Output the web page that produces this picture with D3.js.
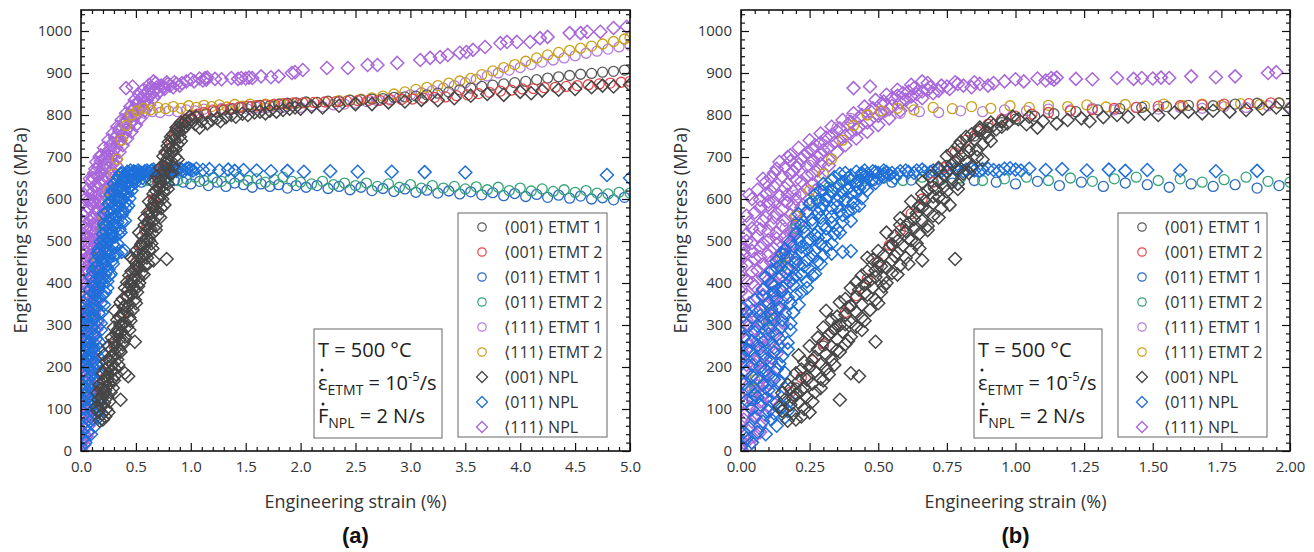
<!DOCTYPE html>
<html>
<head>
<meta charset="utf-8">
<script src="https://cdn.jsdelivr.net/npm/d3@7"></script>
<style>
  body { margin: 0; background: #fff; }
  svg { font-family: "Open Sans", "DejaVu Sans", sans-serif; }
</style>
</head>
<body>
<svg id="chart" width="1314" height="552"></svg>
<script>
// ---- data: [strain %, stress MPa] ----
const etmt001_1 = [[0.20,150],[0.25,200],[0.30,250],[0.35,300],[0.40,345],[0.45,395],[0.50,440],[0.55,490],[0.60,535],[0.65,580],[0.70,630],[0.75,680],[0.80,720],[0.85,750],[0.90,770],[0.95,782],[1.00,790],[1.07,797],[1.14,803],[1.22,808],[1.30,812],[1.38,815],[1.46,818],[1.55,820],[1.63,823],[1.72,822],[1.80,826],[1.88,828],[1.96,829],[2.05,831],[2.15,830],[2.25,833],[2.35,832],[2.45,835],[2.55,836],[2.65,838],[2.75,839],[2.85,842],[2.95,843],[3.05,845],[3.15,848],[3.25,852],[3.35,855],[3.45,860],[3.55,864],[3.65,868],[3.75,871],[3.85,874],[3.95,877],[4.05,880],[4.15,884],[4.25,888],[4.35,891],[4.45,894],[4.55,897],[4.65,899],[4.75,902],[4.85,904],[4.95,907]];
const etmt001_2 = [[0.18,140],[0.22,175],[0.26,215],[0.30,255],[0.34,290],[0.38,330],[0.42,370],[0.46,410],[0.50,450],[0.54,490],[0.58,525],[0.62,565],[0.66,600],[0.70,640],[0.74,675],[0.78,710],[0.82,740],[0.86,762],[0.90,778],[0.95,790],[1.00,797],[1.06,802],[1.12,806],[1.20,810],[1.28,813],[1.36,816],[1.44,818],[1.52,821],[1.60,822],[1.68,824],[1.76,826],[1.85,827],[1.93,829],[2.02,829],[2.12,830],[2.22,831],[2.32,832],[2.42,833],[2.52,834],[2.62,835],[2.72,835],[2.82,836],[2.92,837],[3.02,838],[3.12,840],[3.22,842],[3.32,843],[3.42,846],[3.52,848],[3.62,851],[3.72,854],[3.82,857],[3.92,859],[4.02,862],[4.12,863],[4.22,865],[4.32,866],[4.42,868],[4.52,870],[4.62,872],[4.72,874],[4.82,876],[4.92,878],[5.00,880]];
const etmt011_1 = [[0.04,120],[0.08,260],[0.12,380],[0.16,470],[0.20,540],[0.25,590],[0.30,620],[0.36,635],[0.42,640],[0.48,643],[0.55,640],[0.62,645],[0.70,641],[0.77,638],[0.85,644],[0.93,640],[1.00,636],[1.08,642],[1.16,632],[1.24,640],[1.32,630],[1.40,638],[1.48,634],[1.56,628],[1.64,636],[1.72,630],[1.80,634],[1.88,626],[1.96,632],[2.05,628],[2.15,632],[2.25,625],[2.35,630],[2.45,622],[2.55,628],[2.65,620],[2.75,625],[2.85,618],[2.95,624],[3.05,616],[3.15,621],[3.25,614],[3.35,619],[3.45,612],[3.55,617],[3.65,610],[3.75,615],[3.85,608],[3.95,613],[4.05,606],[4.15,611],[4.25,604],[4.35,609],[4.45,602],[4.55,607],[4.65,600],[4.75,603],[4.85,598],[4.95,604]];
const etmt011_2 = [[0.05,150],[0.10,310],[0.15,440],[0.20,530],[0.26,595],[0.32,628],[0.38,645],[0.45,648],[0.52,650],[0.59,644],[0.66,652],[0.73,646],[0.80,650],[0.88,644],[0.96,648],[1.04,652],[1.12,644],[1.20,650],[1.28,642],[1.36,648],[1.44,652],[1.52,644],[1.60,648],[1.68,640],[1.76,646],[1.84,652],[1.92,642],[2.00,640],[2.10,636],[2.20,642],[2.30,634],[2.40,638],[2.50,632],[2.60,638],[2.70,630],[2.80,636],[2.90,628],[3.00,634],[3.10,626],[3.20,632],[3.30,626],[3.40,630],[3.50,624],[3.60,629],[3.70,622],[3.80,628],[3.90,620],[4.00,626],[4.10,619],[4.20,624],[4.30,618],[4.40,622],[4.50,616],[4.60,620],[4.70,614],[4.80,612],[4.90,616],[5.00,614]];
const etmt111_1 = [[0.04,150],[0.08,300],[0.12,430],[0.16,530],[0.20,610],[0.25,680],[0.30,730],[0.35,770],[0.40,792],[0.46,802],[0.52,806],[0.58,804],[0.65,808],[0.72,806],[0.80,810],[0.88,808],[0.96,812],[1.04,810],[1.12,814],[1.20,812],[1.28,816],[1.36,812],[1.44,818],[1.52,814],[1.60,818],[1.68,816],[1.76,820],[1.84,818],[1.92,822],[2.00,818],[2.10,822],[2.20,820],[2.30,824],[2.40,826],[2.50,828],[2.60,832],[2.70,834],[2.80,838],[2.90,842],[3.00,848],[3.10,853],[3.20,858],[3.30,864],[3.40,870],[3.50,877],[3.60,885],[3.70,893],[3.80,900],[3.90,907],[4.00,913],[4.10,920],[4.20,926],[4.30,931],[4.40,936],[4.50,941],[4.60,947],[4.70,952],[4.80,957],[4.90,962],[5.00,966]];
const etmt111_2 = [[0.05,170],[0.10,330],[0.15,460],[0.20,560],[0.25,620],[0.30,660],[0.33,695],[0.37,740],[0.41,775],[0.46,800],[0.51,810],[0.57,816],[0.63,812],[0.70,818],[0.77,815],[0.84,820],[0.91,816],[0.98,822],[1.05,818],[1.12,823],[1.19,820],[1.26,824],[1.33,819],[1.40,825],[1.47,821],[1.54,826],[1.61,822],[1.68,826],[1.75,823],[1.82,827],[1.89,825],[1.96,828],[2.05,829],[2.15,830],[2.25,832],[2.35,834],[2.45,836],[2.55,838],[2.65,841],[2.75,845],[2.85,850],[2.95,855],[3.05,861],[3.15,866],[3.25,870],[3.35,876],[3.45,881],[3.55,887],[3.65,896],[3.75,905],[3.85,913],[3.95,920],[4.05,928],[4.15,936],[4.25,943],[4.35,949],[4.45,954],[4.55,959],[4.65,964],[4.75,969],[4.85,975],[4.95,981],[5.00,984]];
const npl001 = [[0.17,72],[0.20,75],[0.19,88],[0.15,95],[0.23,100],[0.18,110],[0.21,115],[0.16,122],[0.24,128],[0.20,135],[0.27,140],[0.18,148],[0.23,152],[0.26,160],[0.21,166],[0.29,172],[0.24,178],[0.40,185],[0.20,185],[0.27,190],[0.31,196],[0.25,200],[0.29,206],[0.23,212],[0.33,218],[0.27,224],[0.31,230],[0.36,236],[0.28,242],[0.33,248],[0.38,254],[0.30,260],[0.35,266],[0.40,272],[0.32,278],[0.37,284],[0.34,290],[0.42,296],[0.36,300],[0.40,306],[0.33,312],[0.44,318],[0.38,324],[0.42,330],[0.47,336],[0.39,342],[0.44,348],[0.36,354],[0.49,360],[0.42,366],[0.46,372],[0.51,378],[0.43,384],[0.48,390],[0.45,396],[0.53,400],[0.47,406],[0.52,412],[0.44,418],[0.55,424],[0.49,430],[0.53,436],[0.58,442],[0.50,448],[0.55,454],[0.46,460],[0.78,457],[0.60,460],[0.52,466],[0.57,472],[0.62,478],[0.54,484],[0.59,490],[0.64,494],[0.57,500],[0.61,506],[0.56,512],[0.65,518],[0.60,524],[0.63,530],[0.68,536],[0.61,542],[0.66,548],[0.58,554],[0.70,560],[0.64,566],[0.68,572],[0.73,578],[0.65,584],[0.70,590],[0.67,596],[0.74,600],[0.70,606],[0.66,612],[0.75,618],[0.71,624],[0.74,630],[0.79,636],[0.72,642],[0.77,648],[0.69,654],[0.81,660],[0.75,666],[0.79,672],[0.84,678],[0.77,684],[0.82,690],[0.79,696],[0.86,700],[0.81,706],[0.77,712],[0.86,718],[0.83,724],[0.88,730],[0.80,736],[0.85,742],[0.90,748],[0.84,754],[0.89,760],[0.93,766],[0.87,770],[0.92,776],[0.97,780],[0.95,786],[1.01,790],[1.04,778],[1.08,770],[1.10,785],[1.15,780],[1.19,788],[1.24,792],[1.27,785],[1.32,795],[1.37,800],[1.41,796],[1.47,803],[1.52,800],[1.58,806],[1.63,808],[1.68,804],[1.72,810],[1.78,808],[1.84,812],[1.90,815],[1.95,818],[2.00,815],[2.10,820],[2.20,818],[2.35,822],[2.50,826],[2.65,826],[2.80,830],[2.95,832],[3.10,836],[3.25,835],[3.40,840],[3.55,846],[3.70,850],[3.85,848],[4.00,855],[4.10,852],[4.20,858],[4.35,860],[4.50,862],[4.65,866],[4.75,870],[4.85,868],[5.00,872],
  [0.22,82],[0.25,92],[0.14,105],[0.26,118],[0.19,126],[0.15,138],[0.22,144],[0.29,150],[0.17,158],[0.24,170],[0.32,182],[0.22,194],[0.34,205],[0.26,216],[0.21,228],[0.35,240],[0.25,250],[0.39,262],[0.28,270],[0.33,282],[0.44,288],[0.30,294],[0.38,302],[0.45,310],[0.35,320],[0.31,334],[0.40,346],[0.50,352],[0.38,362],[0.45,376],[0.40,388],[0.52,392],[0.42,402],[0.49,414],[0.57,420],[0.46,428],[0.51,440],[0.61,446],[0.48,456],[0.56,464],[0.50,476],[0.65,482],[0.55,492],[0.62,502],[0.53,520],[0.68,526],[0.58,538],[0.63,552],[0.72,556],[0.61,568],[0.66,580],[0.76,586],[0.62,594],[0.72,604],[0.68,620],[0.79,624],[0.66,640],[0.74,656],[0.83,662],[0.72,674],[0.78,688],[0.88,694],[0.75,702],[0.83,714],[0.79,726],[0.91,738],[0.82,748],[0.87,764],[0.95,772],[0.91,782],[0.99,796],[1.05,796],[0.43,178],[0.36,122],[0.66,454],[0.30,168],[0.49,260]];
const npl011 = [[0.00,10],[0.02,30],[0.04,20],[0.03,55],[0.06,45],[0.05,80],[0.08,70],[0.10,95],[0.07,110],[0.12,90],[0.15,105],[0.17,95],[0.02,120],[0.09,125],[0.05,135],[0.12,140],[0.03,150],[0.08,158],[0.14,165],[0.06,172],[0.10,180],[0.02,188],[0.13,195],[0.07,200],[0.00,210],[0.11,212],[0.05,220],[0.15,226],[0.08,232],[0.03,238],[0.02,240],[0.12,246],[0.00,250],[0.06,252],[0.17,258],[0.09,265],[0.01,270],[0.13,276],[0.05,283],[0.18,288],[0.10,294],[0.02,300],[0.08,306],[0.15,312],[0.04,318],[0.11,324],[0.02,330],[0.19,330],[0.07,336],[0.01,340],[0.14,342],[0.21,348],[0.10,354],[0.05,360],[0.17,366],[0.12,372],[0.22,378],[0.08,384],[0.15,390],[0.19,396],[0.11,400],[0.24,404],[0.14,410],[0.20,416],[0.27,422],[0.11,428],[0.17,434],[0.23,440],[0.29,446],[0.13,452],[0.20,458],[0.26,464],[0.33,470],[0.37,474],[0.40,476],[0.16,480],[0.22,486],[0.29,492],[0.18,498],[0.25,504],[0.31,510],[0.20,516],[0.28,522],[0.35,528],[0.23,534],[0.30,540],[0.37,546],[0.26,552],[0.33,558],[0.21,564],[0.39,570],[0.29,576],[0.35,582],[0.25,588],[0.41,592],[0.31,598],[0.36,604],[0.27,610],[0.42,614],[0.33,620],[0.39,626],[0.45,630],[0.30,636],[0.37,640],[0.43,644],[0.48,648],[0.34,652],[0.40,656],[0.46,660],[0.52,654],[0.56,650],[0.38,662],[0.42,665],[0.45,668],[0.49,664],[0.52,668],[0.55,662],[0.58,666],[0.61,664],[0.64,668],[0.67,665],[0.70,668],[0.73,666],[0.76,670],[0.79,667],[0.82,670],[0.85,668],[0.88,671],[0.92,669],[0.96,672],[1.00,670],[1.05,672],[1.11,669],[1.17,671],[1.26,668],[1.34,670],[1.40,667],[1.48,669],[1.60,668],[1.73,666],[1.88,667],[2.03,665],[2.27,666],[2.52,665],[2.83,665],[3.13,664],[3.50,663],[4.79,657],[5.00,650],
  [0.01,45],[0.09,40],[0.13,60],[0.11,75],[0.16,80],[0.04,100],[0.13,115],[0.18,120],[0.06,128],[0.10,145],[0.16,150],[0.01,160],[0.12,170],[0.04,178],[0.16,186],[0.09,192],[0.04,205],[0.14,208],[0.09,218],[0.01,225],[0.12,235],[0.17,242],[0.07,244],[0.04,262],[0.14,268],[0.10,278],[0.15,296],[0.06,298],[0.18,304],[0.12,314],[0.07,322],[0.16,328],[0.11,338],[0.18,352],[0.13,360],[0.08,368],[0.20,372],[0.15,380],[0.24,388],[0.12,392],[0.18,404],[0.09,414],[0.22,420],[0.16,426],[0.25,432],[0.14,440],[0.20,448],[0.24,454],[0.17,462],[0.30,466],[0.22,472],[0.27,478],[0.19,488],[0.33,494],[0.24,496],[0.28,508],[0.34,516],[0.23,522],[0.31,530],[0.26,542],[0.40,548],[0.29,556],[0.37,562],[0.24,570],[0.33,578],[0.43,584],[0.28,594],[0.38,598],[0.32,608],[0.40,612],[0.46,620],[0.35,628],[0.42,634],[0.49,638],[0.40,646],[0.46,652],[0.52,660],[0.44,657],[0.50,662],[0.54,658],[0.48,666],[0.57,660],[0.60,668],[0.63,662],[0.66,670],[0.69,664],[0.72,670],[0.75,665],[0.78,672],[0.81,666],[0.84,672],[0.87,667],[0.90,672],[0.94,667],[0.98,673],[1.02,668],
  [0.19,412],[0.26,418],[0.13,436],[0.21,444],[0.28,452],[0.15,470],[0.24,480],[0.31,486],[0.21,502],[0.27,514],[0.36,520],[0.22,538],[0.33,544],[0.28,566],[0.36,572],[0.41,578],[0.30,586],[0.35,596],[0.44,602],[0.29,620],[0.37,618],[0.43,626],[0.33,644],[0.39,650],[0.50,650],[0.36,660],[0.44,662],[0.53,664]];
const npl111 = [[0.00,5],[0.01,20],[0.03,15],[0.02,40],[0.05,35],[0.00,60],[0.04,70],[0.07,60],[0.02,90],[0.06,100],[0.09,85],[0.01,115],[0.04,125],[0.08,135],[0.11,120],[0.02,145],[0.06,155],[0.10,162],[0.00,170],[0.04,180],[0.08,188],[0.13,195],[0.02,205],[0.06,215],[0.11,222],[0.00,230],[0.04,238],[0.09,246],[0.14,252],[0.02,262],[0.07,270],[0.12,278],[0.00,285],[0.05,292],[0.10,300],[0.15,306],[0.02,312],[0.08,318],[0.12,326],[0.04,334],[0.00,342],[0.10,350],[0.15,356],[0.06,364],[0.02,372],[0.12,378],[0.08,386],[0.16,394],[0.04,400],[0.10,408],[0.00,416],[0.14,422],[0.06,430],[0.17,436],[0.02,444],[0.11,450],[0.00,456],[0.07,462],[0.15,468],[0.04,476],[0.12,482],[0.18,488],[0.08,494],[0.02,500],[0.13,506],[0.06,512],[0.18,518],[0.10,524],[0.04,530],[0.15,536],[0.21,542],[0.08,548],[0.12,556],[0.18,562],[0.05,568],[0.15,574],[0.22,580],[0.10,586],[0.17,592],[0.07,598],[0.20,600],[0.14,606],[0.09,612],[0.19,618],[0.24,624],[0.12,630],[0.17,636],[0.22,642],[0.08,648],[0.15,654],[0.26,660],[0.12,662],[0.19,666],[0.13,672],[0.24,678],[0.29,684],[0.18,690],[0.22,696],[0.17,700],[0.28,700],[0.18,704],[0.24,710],[0.30,716],[0.21,722],[0.27,728],[0.34,734],[0.25,740],[0.31,746],[0.38,750],[0.29,756],[0.35,762],[0.42,766],[0.33,772],[0.39,778],[0.46,782],[0.37,788],[0.43,794],[0.50,798],[0.41,804],[0.47,810],[0.54,814],[0.45,820],[0.51,826],[0.58,830],[0.49,836],[0.55,840],[0.62,844],[0.53,848],[0.59,852],[0.66,856],[0.72,858],[0.57,860],[0.41,864],[0.63,864],[0.69,866],[0.47,868],[0.75,868],[0.81,870],[0.62,872],[0.87,874],[0.68,876],[0.92,876],[0.78,878],[0.96,880],[1.00,885],[1.03,880],[1.08,887],[1.11,882],[1.13,888],[1.14,884],[1.15,889],[1.22,886],[1.28,885],[1.37,888],[1.43,886],[1.46,888],[1.50,887],[1.53,889],[1.56,888],[1.64,892],[1.73,890],[1.80,892],[1.92,900],[1.95,902],[2.02,907],[2.24,912],[2.43,912],[2.61,919],[2.70,919],[2.88,924],[3.09,931],[3.18,936],[3.27,938],[3.34,943],[3.45,948],[3.51,950],[3.57,955],[3.68,962],[3.82,971],[3.88,974],[3.97,974],[4.09,974],[4.18,983],[4.25,986],[4.45,995],[4.55,995],[4.61,998],[4.73,998],[4.85,1007],[4.97,1010],
  [0.03,28],[0.07,45],[0.01,75],[0.05,85],[0.10,105],[0.03,105],[0.07,118],[0.00,130],[0.12,140],[0.05,142],[0.09,150],[0.01,158],[0.07,168],[0.12,176],[0.02,190],[0.10,200],[0.05,205],[0.00,218],[0.08,226],[0.13,232],[0.03,250],[0.11,258],[0.06,262],[0.01,272],[0.09,286],[0.14,290],[0.03,298],[0.07,306],[0.11,314],[0.01,322],[0.06,330],[0.14,338],[0.09,344],[0.03,352],[0.12,362],[0.08,372],[0.00,380],[0.14,386],[0.05,392],[0.12,398],[0.02,406],[0.08,414],[0.15,418],[0.04,426],[0.11,432],[0.00,440],[0.08,444],[0.14,454],[0.05,458],[0.10,466],[0.01,470],[0.16,478],[0.07,484],[0.13,492],[0.04,496],[0.10,502],[0.16,510],[0.02,516],[0.13,520],[0.07,528],[0.19,530],[0.11,540],[0.03,544],[0.16,550],[0.09,556],[0.20,560],[0.13,566],[0.07,580],[0.19,586],[0.12,594],[0.04,600],[0.17,610],[0.22,612],[0.11,618],[0.06,622],[0.16,626],[0.26,634],[0.20,646],[0.11,650],[0.24,654],[0.18,660],[0.28,668],[0.16,676],[0.21,682],[0.26,690],[0.32,694],[0.23,702],[0.29,706],[0.35,712],[0.26,718],[0.32,722],[0.38,728],[0.29,734],[0.36,740],[0.42,744],[0.33,752],[0.40,756],[0.46,760],[0.36,768],[0.43,770],[0.50,776],[0.40,784],[0.47,788],[0.54,792],[0.44,800],[0.51,806],[0.58,810],[0.48,816],[0.55,822],[0.62,824],[0.52,832],[0.60,836],[0.66,840],[0.57,846],[0.64,850],[0.70,852],[0.61,856],[0.68,860],[0.76,862],[0.84,866],[0.73,870],[0.90,870],[0.79,874],[0.85,878],[0.66,880],
  [0.17,420],[0.13,462],[0.18,474],[0.17,500],[0.20,520],[0.22,550],[0.02,560],[0.24,568],[0.16,596],[0.25,600],[0.03,610],[0.27,620],[0.09,640],[0.29,650],[0.14,688],[0.20,676],[0.32,680],[0.10,594],[0.01,480],[0.19,448]];

const seriesNames = ['\u27E8001\u27E9 ETMT 1','\u27E8001\u27E9 ETMT 2','\u27E8011\u27E9 ETMT 1','\u27E8011\u27E9 ETMT 2','\u27E8111\u27E9 ETMT 1','\u27E8111\u27E9 ETMT 2','\u27E8001\u27E9 NPL','\u27E8011\u27E9 NPL','\u27E8111\u27E9 NPL'];
const seriesColors = ['#5a5a5a','#e3464b','#2a68c4','#34a377','#b47cd9','#c9a016','#464646','#1e6fd9','#a866db'];
const seriesShapes = ['circle','circle','circle','circle','circle','circle','diamond','diamond','diamond'];
const seriesData = [etmt001_1, etmt001_2, etmt011_1, etmt011_2, etmt111_1, etmt111_2, npl001, npl011, npl111];
// drawing order, bottom to top
const drawOrder = [8, 4, 5, 2, 3, 7, 0, 1, 6];

const xTicksA = [0, 0.5, 1.0, 1.5, 2.0, 2.5, 3.0, 3.5, 4.0, 4.5, 5.0];
const xTicksB = [0, 0.25, 0.5, 0.75, 1.0, 1.25, 1.5, 1.75, 2.0];
const yTicks = [0, 100, 200, 300, 400, 500, 600, 700, 800, 900, 1000];

const svg = d3.select('#chart');
const plotTop = 10, plotBottom = 451;
const y = d3.scaleLinear().domain([0, 1050]).range([plotBottom, plotTop]);

const panels = [
  { key: 'a', left: 81, right: 630, xMax: 5, ticks: xTicksA, minor: 0.1, fmt: d3.format('.1f') },
  { key: 'b', left: 741, right: 1290, xMax: 2, ticks: xTicksB, minor: 0.05, fmt: d3.format('.2f') }
];

const diamond = s => `M0,${-s}L${s},0L0,${s}L${-s},0Z`;

function minorTicks(max, step, majors) {
  const out = [];
  for (let i = 0; i * step <= max + 1e-9; i++) {
    const v = +(i * step).toFixed(3);
    if (!majors.some(m => Math.abs(m - v) < 1e-6)) out.push(v);
  }
  return out;
}

panels.forEach(p => {
  const x = d3.scaleLinear().domain([0, p.xMax]).range([p.left, p.right]);
  const g = svg.append('g');
  const w = p.right - p.left, h = plotBottom - plotTop;

  g.append('clipPath').attr('id', 'clip-' + p.key)
    .append('rect').attr('x', p.left).attr('y', plotTop).attr('width', w).attr('height', h);

  // points
  const plot = g.append('g').attr('clip-path', `url(#clip-${p.key})`);
  drawOrder.forEach(i => {
    const pts = seriesData[i].filter(d => d[0] <= p.xMax + 0.05);
    const sel = plot.append('g')
      .attr('fill', 'none')
      .attr('stroke', seriesColors[i]);
    if (seriesShapes[i] === 'circle') {
      sel.attr('stroke-width', 1.3);
      sel.selectAll('circle').data(pts).enter().append('circle')
        .attr('cx', d => x(d[0])).attr('cy', d => y(d[1])).attr('r', 5);
    } else {
      sel.attr('stroke-width', 1.5);
      sel.selectAll('path').data(pts).enter().append('path')
        .attr('d', diamond(6.5))
        .attr('transform', d => `translate(${x(d[0])},${y(d[1])})`);
    }
  });

  // axes: ticks pointing inwards on all four sides
  const yMinor = minorTicks(1040, 20, yTicks);
  const xMinor = minorTicks(p.xMax, p.minor, p.ticks);
  const axes = g.append('g').attr('class', 'axes');

  axes.append('g').attr('transform', `translate(${p.left},0)`)
    .call(d3.axisLeft(y).tickValues(yTicks).tickSize(-8).tickPadding(9).tickFormat(d3.format('d')));
  axes.append('g').attr('transform', `translate(${p.left},0)`)
    .call(d3.axisLeft(y).tickValues(yMinor).tickSize(-4).tickFormat(''));
  axes.append('g').attr('transform', `translate(${p.right},0)`)
    .call(d3.axisRight(y).tickValues(yTicks).tickSize(-8).tickFormat(''));
  axes.append('g').attr('transform', `translate(${p.right},0)`)
    .call(d3.axisRight(y).tickValues(yMinor).tickSize(-4).tickFormat(''));

  axes.append('g').attr('transform', `translate(0,${plotBottom})`)
    .call(d3.axisBottom(x).tickValues(p.ticks).tickSize(-8).tickPadding(10).tickFormat(p.fmt));
  axes.append('g').attr('transform', `translate(0,${plotBottom})`)
    .call(d3.axisBottom(x).tickValues(xMinor).tickSize(-4).tickFormat(''));
  axes.append('g').attr('transform', `translate(0,${plotTop})`)
    .call(d3.axisTop(x).tickValues(p.ticks).tickSize(-8).tickFormat(''));
  axes.append('g').attr('transform', `translate(0,${plotTop})`)
    .call(d3.axisTop(x).tickValues(xMinor).tickSize(-4).tickFormat(''));

  axes.selectAll('.domain').remove();
  axes.selectAll('.tick line').attr('stroke', '#111').attr('stroke-width', 1.2);
  axes.selectAll('.tick text')
    .attr('font-family', '"Open Sans", sans-serif')
    .attr('font-size', 15).attr('fill', '#333');

  g.append('rect')
    .attr('x', p.left).attr('y', plotTop).attr('width', w).attr('height', h)
    .attr('fill', 'none').attr('stroke', '#111').attr('stroke-width', 1.6);

  // axis titles
  g.append('text')
    .attr('x', (p.left + p.right) / 2).attr('y', 508)
    .attr('text-anchor', 'middle').attr('font-size', 18).attr('fill', '#333')
    .text('Engineering strain (%)');
  g.append('text')
    .attr('transform', `translate(${p.left - 54},${(plotTop + plotBottom) / 2}) rotate(-90)`)
    .attr('text-anchor', 'middle').attr('font-size', 18).attr('fill', '#333')
    .text('Engineering stress (MPa)');
  g.append('text')
    .attr('x', (p.left + p.right) / 2).attr('y', 543)
    .attr('text-anchor', 'middle')
    .attr('font-family', '"Liberation Sans", Arial, sans-serif')
    .attr('font-weight', 'bold').attr('font-size', 22).attr('fill', '#111')
    .text(`(${p.key})`);

  // legend
  const lx = p.left + 377, ly = 213;
  const leg = g.append('g');
  leg.append('rect').attr('x', lx).attr('y', ly).attr('width', 149).attr('height', 224)
    .attr('fill', '#fff').attr('stroke', '#666').attr('stroke-width', 1);
  seriesNames.forEach((name, i) => {
    const cy = ly + 14 + i * 25;
    const mx = lx + 24;
    if (seriesShapes[i] === 'circle') {
      leg.append('circle').attr('cx', mx).attr('cy', cy).attr('r', 4.2)
        .attr('fill', 'none').attr('stroke', seriesColors[i]).attr('stroke-width', 1.2);
    } else {
      leg.append('path').attr('d', diamond(5.5)).attr('transform', `translate(${mx},${cy})`)
        .attr('fill', 'none').attr('stroke', seriesColors[i]).attr('stroke-width', 1.3);
    }
    leg.append('text').attr('x', lx + 46).attr('y', cy + 6)
      .attr('font-size', 16).attr('fill', '#333').text(name);
  });

  // test conditions box
  const nx = p.left + 233, ny = 329;
  const note = g.append('g').attr('fill', '#222');
  note.append('rect').attr('x', nx).attr('y', ny).attr('width', 128).attr('height', 109)
    .attr('fill', '#fff').attr('stroke', '#666').attr('stroke-width', 1);
  note.append('text').attr('x', nx + 4).attr('y', ny + 28).attr('font-size', 20).text('T = 500 \u00B0C');

  const l2 = note.append('text').attr('x', nx + 4).attr('y', ny + 61).attr('font-size', 20);
  l2.append('tspan').text('\u03B5');
  l2.append('tspan').attr('font-size', 14).attr('dy', 5).text('ETMT');
  l2.append('tspan').attr('dy', -5).text(' = 10');
  l2.append('tspan').attr('font-size', 13).attr('dy', -9).text('-5');
  l2.append('tspan').attr('dy', 9).text('/s');
  note.append('circle').attr('cx', nx + 8).attr('cy', ny + 41).attr('r', 1.5);

  const l3 = note.append('text').attr('x', nx + 4).attr('y', ny + 94).attr('font-size', 20);
  l3.append('tspan').text('F');
  l3.append('tspan').attr('font-size', 14).attr('dy', 5).text('NPL');
  l3.append('tspan').attr('dy', -5).text(' = 2 N/s');
  note.append('circle').attr('cx', nx + 9).attr('cy', ny + 75).attr('r', 1.5);
});
</script>
</body>
</html>
